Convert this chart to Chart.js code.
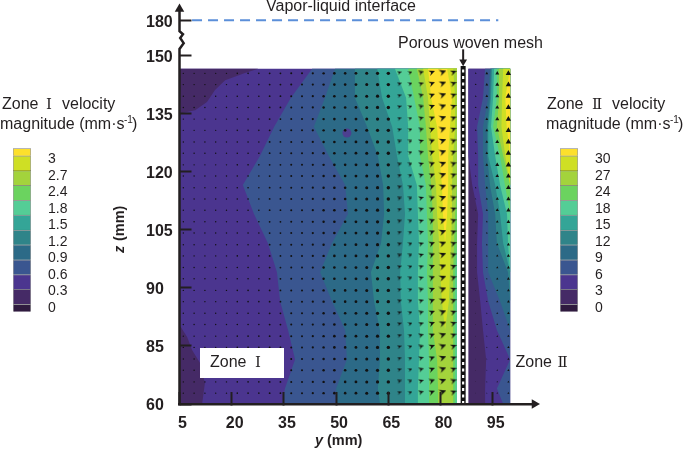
<!DOCTYPE html>
<html lang="en">
  <head>
    <meta charset="UTF-8" />
    <title>Velocity field</title>
    <style>
      body { margin: 0; background: #fff; }
      canvas { position: absolute; }
    </style>
    <script src="https://cdn.jsdelivr.net/npm/chart.js"></script>
  </head>
  <body>
    <canvas id="field" style="left:0;top:0;width:685px;height:451px"></canvas>
    <canvas id="legendOne" style="left:0;top:140px;width:130px;height:180px"></canvas>
    <canvas id="legendTwo" style="left:547px;top:140px;width:130px;height:180px"></canvas>
    <script>
      // contour levels, lowest first
      const bandColors = ["#2f1a3f", "#452a66", "#4b358f", "#3a5690", "#2c6a87", "#2f8489", "#34a597", "#54cd96", "#6bd35f", "#a3d33c", "#cfdf24", "#fde02c"];
      const legendCellHeights = [0.5, 1, 1, 1, 1, 1, 1, 1, 1, 1, 1, 0.5];
      const legendOneLabels = ["0", "0.3", "0.6", "0.9", "1.2", "1.5", "1.8", "2.4", "2.7", "3"];
      const legendTwoLabels = ["0", "3", "6", "9", "12", "15", "18", "24", "27", "30"];
      const legendLabelAt = [0.25, 1.36, 2.47, 3.59, 4.7, 5.81, 6.92, 8.04, 9.15, 10.28];

      const yTicks = [5, 20, 35, 50, 65, 80, 95];
      const zTicks = [60, 75, 90, 105, 120, 135, 150, 159];
      const zTickLabels = ["60", "85", "90", "105", "120", "135", "150", "180"];

      // z of the rows at which the contours were read
      const zRows = [146.5, 139, 131.5, 124, 116.5, 109, 101.5, 94, 86.5, 79, 71.5, 64, 60];

      // zone I contours, y position per row, left to right
      const oneC3 = [43.1, 37.0, 32.2, 28.1, 23.2, 26.4, 30.4, 33.0, 33.9, 36.2, 38.2, 35.3, 34.5];
      const oneC4 = [49.7, 46.8, 43.6, 47.9, 52.6, 53.4, 48.8, 45.4, 48.8, 52.6, 53.1, 50.0, 50.3];
      const oneC5 = [55.4, 55.4, 58.9, 62.0, 63.5, 63.8, 62.9, 60.0, 60.9, 62.6, 62.6, 62.0, 62.6];
      const oneC6 = [61.8, 63.2, 66.1, 67.5, 69.2, 69.8, 69.2, 68.4, 68.6, 69.5, 69.8, 69.8, 69.8];
      const oneC7 = [66.9, 70.1, 70.7, 70.7, 73.2, 73.5, 73.8, 73.5, 73.5, 74.1, 73.8, 73.5, 73.5];
      const oneC8 = [70.7, 72.4, 74.1, 74.1, 75.8, 76.1, 76.4, 76.1, 76.4, 76.4, 76.7, 76.7, 76.7];
      const oneC9 = [73.2, 75.0, 75.8, 76.4, 77.3, 77.8, 77.8, 77.8, 77.8, 77.8, 79.0, 79.3, 79.3];
      const oneC10 = [75.0, 76.4, 77.0, 77.6, 78.7, 79.0, 79.6, 79.9, 80.4, 81.3, 81.3, 81.3, 81.3];
      const oneC11 = [76.4, 77.3, 79.0, 79.6, 80.4, 80.7, 81.3, 81.3, 81.3, 81.3, 81.3, 81.3, 81.3];
      const oneD11 = [81.9, 83.3, 82.7, 82.2, 82.2, 81.9, 81.3, 81.3, 81.3, 81.3, 81.3, 81.3, 81.3];
      const oneD10 = [83.6, 84.2, 84.2, 83.6, 83.3, 83.3, 83.0, 82.7, 82.4, 81.3, 81.3, 81.3, 81.3];
      const oneD9 = [84.7, 84.7, 84.7, 84.7, 84.5, 84.2, 83.9, 83.6, 83.6, 83.6, 83.6, 83.6, 83.6];
      const oneD8 = [84.7, 84.7, 84.7, 84.7, 84.7, 84.7, 84.5, 84.2, 84.2, 84.2, 84.2, 84.2, 84.2];

      // zone II contours
      const twoC1 = [88, 88, 88, 88, 89.1, 90.8, 90.5, 90.5, 91.4, 92.2, 93.1, 92.8, 92.8];
      const twoC2 = [92.8, 92.2, 90.5, 90.8, 90.8, 92.2, 91.9, 92.2, 93.7, 96.2, 100, 96.2, 98.0];
      const twoC3 = [94.2, 93.7, 92.2, 92.2, 92.8, 93.7, 93.7, 93.7, 97.1, 100, 100, 100, 100];
      const twoC4 = [94.5, 94.2, 93.4, 93.4, 94.2, 95.7, 96.2, 99.4, 100, 100, 100, 100, 100];
      const twoC5 = [94.8, 94.5, 93.7, 93.7, 95.7, 97.1, 98.0, 100, 100, 100, 100, 100, 100];
      const twoC6 = [95.4, 95.1, 94.5, 95.7, 97.1, 99.1, 99.4, 100, 100, 100, 100, 100, 100];
      const twoC7 = [96.2, 96.2, 95.1, 97.1, 98.5, 100, 100, 100, 100, 100, 100, 100, 100];
      const twoC8 = [96.8, 96.8, 96.2, 98.0, 100, 100, 100, 100, 100, 100, 100, 100, 100];
      const twoC9 = [98.0, 97.7, 97.5, 98.6, 100, 100, 100, 100, 100, 100, 100, 100, 100];
      const twoC10 = [100, 98.6, 99.0, 100, 100, 100, 100, 100, 100, 100, 100, 100, 100];
      const twoD10 = [100, 100, 100, 100, 100, 100, 100, 100, 100, 100, 100, 100, 100];

      // slow corners of zone I
      const cornerTopY = [5, 27.6, 23.8, 18.1, 15.2, 12.9, 9.5, 5.4, 5];
      const cornerTopZ = [146.5, 146.5, 145.4, 143.5, 141, 137.9, 135.8, 135, 146.5];
      const cornerLowY = [5, 7.2, 8.6, 10.9, 12.3, 11.5, 5, 5];
      const cornerLowZ = [80.4, 77.3, 73.9, 70.6, 65.4, 60, 60, 80.4];

      // measurement grid and arrow lengths
      const arrowRowsZ = [62.8, 65.7, 68.7, 71.6, 74.6, 77.5, 80.5, 83.4, 86.4, 89.3, 92.3, 95.2, 98.2, 101.1, 104.1, 107.0, 110.0, 112.9, 115.8, 118.8, 121.7, 124.7, 127.6, 130.6, 133.5, 136.5, 139.4, 142.4, 145.3];
      const oneColsY = [6.1, 9.2, 12.3, 15.4, 18.5, 21.6, 24.7, 27.8, 30.9, 34.0, 37.1, 40.2, 43.3, 46.4, 49.5, 52.6, 55.7, 58.8, 61.9, 65.0, 68.1, 71.2, 74.3, 77.4, 80.5, 83.6];
      const oneArrowSize = [0.7, 0.7, 0.7, 0.7, 0.7, 0.8, 0.8, 0.8, 0.9, 0.9, 1, 1, 1.1, 1.2, 1.3, 1.3, 1.4, 1.5, 1.6, 1.7, 2, 2.2, 2.6, 3, 3.5, 2.9];
      const twoColsY = [90.1, 93.3, 96.3, 99.5];
      const twoArrowSize = [1, 1.6, 2.3, 3.1];
      const twoRowScale = [0.4, 0.4, 0.4, 0.4, 0.45, 0.45, 0.45, 0.5, 0.5, 0.5, 0.55, 0.55, 0.6, 0.6, 0.7, 0.7, 0.8, 0.8, 0.9, 0.9, 1, 1, 1, 1, 1, 1, 1, 1, 1];

      const INK = "#231f20";
      const TEXT = '"Liberation Sans", Arial, sans-serif';
      const NUM = '"DejaVu Serif", serif';
      const BODY = `16px ${TEXT}`;
      const ROMAN = `15px ${NUM}`;

      const row = (ys) => ys.map((y, i) => ({ x: y, y: zRows[i] }));
      // painted left to right: each band runs to the right edge of its zone
      const band = (ys, edge, color) => ({
        data: [...row(ys), { x: edge, y: 60 }, { x: edge, y: 146.5 }, { x: ys[0], y: 146.5 }],
        backgroundColor: color,
        borderColor: color,
        borderWidth: 0,
        fill: "shape",
        showLine: true,
        pointRadius: 0,
      });
      const corner = (ys, zs) => ({
        data: ys.map((y, i) => ({ x: y, y: zs[i] })),
        backgroundColor: bandColors[1],
        borderWidth: 0,
        fill: "shape",
        showLine: true,
        pointRadius: 0,
      });
      const lineSet = (pts, color, width, dash) => ({
        data: pts,
        borderColor: color,
        borderWidth: width,
        borderDash: dash || [],
        showLine: true,
        pointRadius: 0,
        clip: false,
      });

      // barbed head, pointing right and slightly up
      const sprites = {};
      function arrowSprite(size) {
        if (sprites[size]) return sprites[size];
        const c = document.createElement("canvas");
        c.width = size;
        c.height = size;
        const g = c.getContext("2d");
        g.fillStyle = "#111";
        g.beginPath();
        g.moveTo(size, 0.15 * size);
        g.lineTo(0.05 * size, 0.1 * size);
        g.lineTo(0.45 * size, 0.4 * size);
        g.lineTo(0.3 * size, 0.85 * size);
        g.closePath();
        g.fill();
        sprites[size] = c;
        return c;
      }
      const fieldArrows = (cols, sizes) => {
        const pts = [];
        const style = [];
        const radius = [];
        cols.forEach((y, c) => {
          arrowRowsZ.forEach((z) => {
            pts.push({ x: y, y: z });
            radius.push(sizes[c]);
            style.push(sizes[c] < 2 ? "circle" : arrowSprite(Math.ceil(sizes[c] * 2.2)));
          });
        });
        return {
          data: pts,
          pointStyle: style,
          pointRadius: radius,
          pointBackgroundColor: "#111",
          pointBorderWidth: 0,
          showLine: false,
        };
      };
      const upArrows = (cols, sizes, rowScale) => {
        const pts = [];
        const radius = [];
        cols.forEach((y, c) => {
          arrowRowsZ.forEach((z, r) => {
            pts.push({ x: y, y: z });
            radius.push(sizes[c] * rowScale[r]);
          });
        });
        return {
          data: pts,
          pointStyle: "triangle",
          pointRadius: radius,
          pointBackgroundColor: "#111",
          pointBorderWidth: 0,
          showLine: false,
        };
      };
      const head = (x, y, rotation, r) => ({
        data: [{ x, y }],
        pointStyle: "triangle",
        pointRadius: r,
        pointRotation: rotation,
        pointBackgroundColor: INK,
        pointBorderWidth: 0,
        showLine: false,
        clip: false,
      });

      // runs: text, font, x from the note's start, rise
      const notes = [
        { x: 266, y: 7, runs: [["Vapor-liquid interface", BODY, 0]] },
        { x: 398, y: 44, runs: [["Porous woven mesh", BODY, 0]] },
        { x: 210, y: 363, runs: [["Zone", BODY, 0], ["Ⅰ", ROMAN, 45]] },
        { x: 515.5, y: 363, runs: [["Zone", BODY, 0], ["Ⅱ", ROMAN, 42]] },
        { x: 2, y: 105, runs: [["Zone", BODY, 0], ["Ⅰ", ROMAN, 44], ["velocity", BODY, 60]] },
        { x: 0, y: 125, runs: [["magnitude (mm·s", BODY, 0], ["-1", `10px ${TEXT}`, 124, -5], [")", BODY, 132]] },
        { x: 547, y: 105, runs: [["Zone", BODY, 0], ["Ⅱ", ROMAN, 45], ["velocity", BODY, 65]] },
        { x: 546, y: 125, runs: [["magnitude (mm·s", BODY, 0], ["-1", `10px ${TEXT}`, 124, -5], [")", BODY, 132]] },
        { x: 315, y: 441, runs: [["y", `italic bold 14.5px ${TEXT}`, 0], ["(mm)", `bold 14.5px ${TEXT}`, 12]] },
        { x: 120, y: 253, rotate: true, runs: [["z", `italic bold 14.5px ${TEXT}`, 0], ["(mm)", `bold 14.5px ${TEXT}`, 12]] },
      ];

      const notesPlugin = {
        id: "notes",
        afterDraw(chart) {
          const ctx = chart.ctx;
          ctx.save();
          ctx.fillStyle = "#fff";
          ctx.fillRect(200, 348, 84, 30);
          ctx.fillStyle = INK;
          ctx.textBaseline = "middle";
          ctx.textAlign = "left";
          for (const n of notes) {
            ctx.save();
            ctx.translate(n.x, n.y);
            if (n.rotate) ctx.rotate(-Math.PI / 2);
            for (const [str, font, at, rise] of n.runs) {
              ctx.font = font;
              ctx.fillText(str, at, rise || 0);
            }
            ctx.restore();
          }
          ctx.restore();
        },
      };

      // the tick labels must not push the plot area in
      const noLabelPadding = (s) => {
        s.paddingTop = 0;
        s.paddingBottom = 0;
        s.paddingLeft = 0;
        s.paddingRight = 0;
      };

      const datasets = [
        head(107, 60, 90, 5.5),
        head(5, 161.9, 0, 5.5),
        head(86.5, 148.3, 180, 4.5),
        lineSet([{ x: 86.5, y: 148 }, { x: 86.5, y: 151.5 }], INK, 2),
        lineSet([{ x: 5, y: 60 }, { x: 5, y: 151.6 }, { x: 6.2, y: 153.1 }, { x: 5.2, y: 154.4 }, { x: 6, y: 155.4 }, { x: 5, y: 156.2 }, { x: 5, y: 161.9 }], INK, 2.5),
        lineSet([{ x: 8.6, y: 159 }, { x: 96.6, y: 159 }], "#5b8fd9", 2, [10, 6]),
        lineSet([{ x: 86.5, y: 60 }, { x: 86.5, y: 147.2 }], "#fff", 2.2, [3, 3.5]),
        lineSet([{ x: 86.5, y: 60 }, { x: 86.5, y: 147.2 }], "#111", 5),
        upArrows(twoColsY, twoArrowSize, twoRowScale),
        fieldArrows(oneColsY, oneArrowSize),
        {
          data: [{ x: 53.1, y: 129.9 }],
          pointRadius: 4.5,
          pointBackgroundColor: "#4d3f90",
          pointBorderWidth: 0,
          showLine: false,
        },
        corner(cornerTopY, cornerTopZ),
        corner(cornerLowY, cornerLowZ),
        // painter's order: datasets listed first end up on top
        band(twoD10, 100, bandColors[10]),
        band(twoC10, 100, bandColors[11]),
        band(twoC9, 100, bandColors[10]),
        band(twoC8, 100, bandColors[9]),
        band(twoC7, 100, bandColors[8]),
        band(twoC6, 100, bandColors[7]),
        band(twoC5, 100, bandColors[6]),
        band(twoC4, 100, bandColors[5]),
        band(twoC3, 100, bandColors[4]),
        band(twoC2, 100, bandColors[3]),
        band(twoC1, 100, bandColors[2]),
        band(zRows.map(() => 88), 100, bandColors[1]),
        band(oneD8, 84.7, bandColors[7]),
        band(oneD9, 84.7, bandColors[8]),
        band(oneD10, 84.7, bandColors[9]),
        band(oneD11, 84.7, bandColors[10]),
        band(oneC11, 84.7, bandColors[11]),
        band(oneC10, 84.7, bandColors[10]),
        band(oneC9, 84.7, bandColors[9]),
        band(oneC8, 84.7, bandColors[8]),
        band(oneC7, 84.7, bandColors[7]),
        band(oneC6, 84.7, bandColors[6]),
        band(oneC5, 84.7, bandColors[5]),
        band(oneC4, 84.7, bandColors[4]),
        band(oneC3, 84.7, bandColors[3]),
        band(zRows.map(() => 5), 84.7, bandColors[2]),
      ];

      new Chart(document.getElementById("field"), {
        type: "scatter",
        data: { datasets },
        plugins: [notesPlugin],
        options: {
          responsive: false,
          animation: false,
          layout: { autoPadding: false, padding: { left: 146, top: 9, right: 150.5, bottom: 17 } },
          plugins: { legend: { display: false }, tooltip: { enabled: false } },
          scales: {
            x: {
              type: "linear",
              min: 5,
              max: 107,
              afterFit: (s) => { s.height = 30; noLabelPadding(s); },
              afterBuildTicks: (s) => { s.ticks = yTicks.map((value) => ({ value })); },
              border: { display: true, color: INK, width: 2.5, z: 2 },
              grid: { drawOnChartArea: false, tickLength: -12, tickWidth: 2, tickColor: INK, z: 2 },
              ticks: {
                autoSkip: false,
                maxRotation: 0,
                padding: 22,
                labelOffset: 3,
                color: INK,
                font: { family: "Liberation Sans", size: 16, weight: "bold" },
                callback: (v) => String(v),
              },
            },
            y: {
              type: "linear",
              min: 60,
              max: 161.9,
              afterFit: (s) => { s.width = 33.5; noLabelPadding(s); },
              afterBuildTicks: (s) => { s.ticks = zTicks.map((value) => ({ value })); },
              border: { display: false },
              grid: { drawOnChartArea: false, tickLength: -12, tickWidth: 2, tickColor: INK, z: 2 },
              ticks: {
                autoSkip: false,
                crossAlign: "far",
                labelOffset: 2,
                color: INK,
                font: { family: "Liberation Sans", size: 16, weight: "bold" },
                callback: (v) => zTickLabels[zTicks.indexOf(v)],
              },
            },
          },
        },
      });

      function drawLegend(id, labels) {
        new Chart(document.getElementById(id), {
          type: "bar",
          data: {
            labels: [""],
            datasets: bandColors.map((color, i) => ({
              data: [legendCellHeights[i]],
              backgroundColor: color,
              borderColor: "rgba(40,40,40,0.45)",
              borderWidth: 1,
              categoryPercentage: 1,
              barPercentage: 1,
            })),
          },
          options: {
            responsive: false,
            animation: false,
            layout: { autoPadding: false, padding: { left: 13, top: 8.3, bottom: 8.3 } },
            plugins: { legend: { display: false }, tooltip: { enabled: false } },
            scales: {
              x: { stacked: true, display: false },
              y: {
                stacked: true,
                position: "right",
                min: 0,
                max: 11,
                afterFit: (s) => { s.width = 99; noLabelPadding(s); },
                afterBuildTicks: (s) => { s.ticks = legendLabelAt.map((value) => ({ value })); },
                border: { display: false },
                grid: { display: false },
                ticks: {
                  autoSkip: false,
                  padding: 9,
                  color: INK,
                  font: { family: "Liberation Sans", size: 14 },
                  callback: (v) => labels[legendLabelAt.indexOf(v)],
                },
              },
            },
          },
        });
      }
      drawLegend("legendOne", legendOneLabels);
      drawLegend("legendTwo", legendTwoLabels);
    </script>
  </body>
</html>
